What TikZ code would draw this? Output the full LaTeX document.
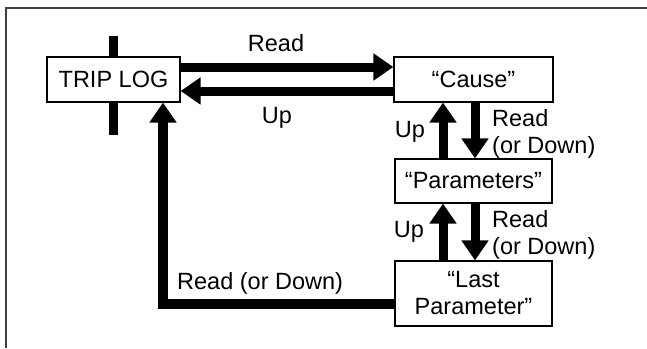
\documentclass[tikz,border=0pt]{standalone}
\usepackage{fontspec}
\setmainfont{Liberation Sans}
\usetikzlibrary{arrows.meta,calc}
\begin{document}
\begin{tikzpicture}[x=1pt,y=-1pt,
  box/.style={draw,line width=1.2pt,fill=white,inner sep=0pt,align=center,font=\fontsize{23.5}{27}\selectfont},
  bigarrow/.style={line width=9pt,line join=miter,-{Triangle[length=20pt,width=26pt]}},
  bar/.style={line width=9pt},
  lbl/.style={font=\fontsize{23.5}{27}\selectfont,inner sep=0pt,align=left},
  frame/.style={line width=1.5pt,black!75}]
\useasboundingbox (0,0) rectangle (647,348);
\draw[frame] (6,348) -- (6,8) -- (647,8);
% bar behind trip log
\coordinate (bartop) at (113.5,36);
\coordinate (barbot) at (113.5,135);
\draw[bar] (bartop) -- (barbot);
% boxes
\node[box,minimum width=133pt,minimum height=45pt] (trip) at (113.5,79.5) {TRIP LOG};
\node[box,minimum width=159pt,minimum height=45pt] (cause) at (473.5,79.5) {“Cause”};
\node[box,minimum width=157pt,minimum height=44pt] (params) at (473.5,181) {“Parameters”};
\node[box,minimum width=157pt,minimum height=65pt] (last) at (473.5,293.5) {“Last\\Parameter”};
% helper coordinates
\coordinate (ry) at (0,67);
\coordinate (uy) at (0,91);
\coordinate (ux) at (443,0);
\coordinate (dx) at (475,0);
\coordinate (corner) at (163,304);
% horizontal arrows
\draw[bigarrow] (trip.east |- ry) -- (cause.west |- ry);
\draw[bigarrow] (cause.west |- uy) -- (trip.east |- uy);
% vertical arrows
\draw[bigarrow] (ux |- params.north) -- (ux |- cause.south);
\draw[bigarrow] (dx |- cause.south) -- (dx |- params.north);
\draw[bigarrow] (ux |- last.north) -- (ux |- params.south);
\draw[bigarrow] (dx |- params.south) -- (dx |- last.north);
% return path
\draw[bigarrow,line width=10pt] (last.west |- corner) -- (corner) -- (corner |- trip.south);
% labels
\node[lbl] (lread) at (276,43) {Read};
\node[lbl] (lup) at (277,118) {Up};
\node[lbl] (lup1) at (410,132) {Up};
\node[lbl,anchor=west] (lrd1) at (492,133.5) {Read\\(or Down)};
\node[lbl] (lup2) at (409,232) {Up};
\node[lbl,anchor=west] (lrd2) at (492,235) {Read\\(or Down)};
\node[lbl,anchor=west] (lrd3) at (177,283) {Read (or Down)};
\end{tikzpicture}
\end{document}
